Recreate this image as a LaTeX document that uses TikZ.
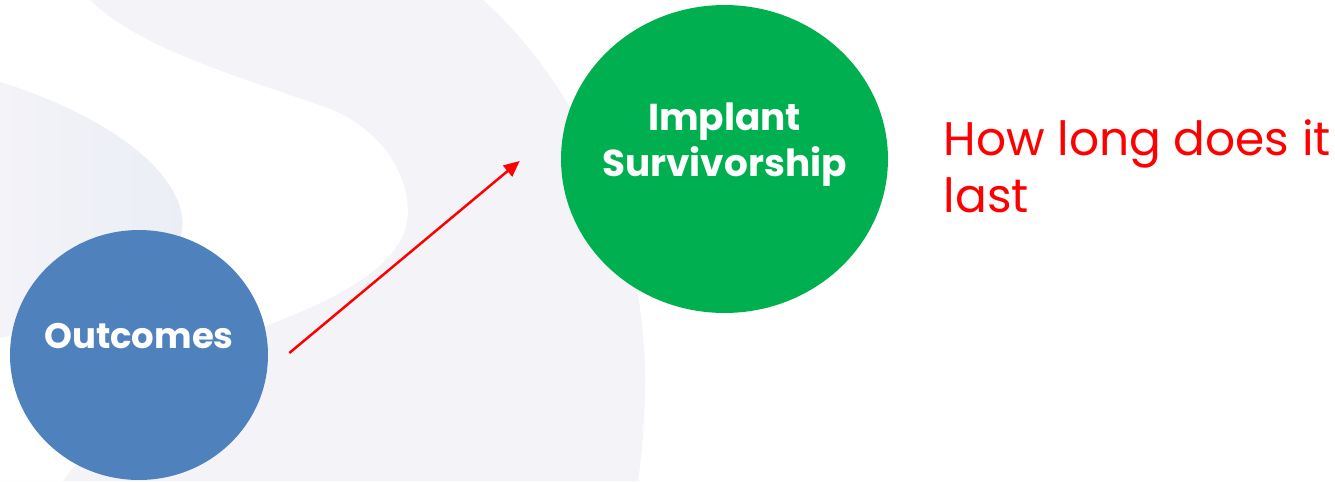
\documentclass[tikz,border=0pt]{standalone}
\usepackage{fontspec}
\setmainfont{Poppins}
\usepackage{tikz}
\usetikzlibrary{shapes.geometric, arrows.meta, positioning}
\definecolor{bggray}{HTML}{F3F3F8}
\definecolor{bgblue}{HTML}{EBEEF6}
\definecolor{outblue}{HTML}{4F81BD}
\definecolor{implgreen}{HTML}{00B050}
\tikzset{
    outcome/.style={ellipse, fill=outblue, minimum width=5.16cm, minimum height=5cm, inner sep=-1cm, align=center, text=white, text height=0.6cm, text depth=0.88cm, font=\bfseries\fontsize{20.2}{24}\selectfont},
    survival/.style={ellipse, fill=implgreen, minimum width=6.54cm, minimum height=6.16cm, inner sep=-1cm, align=center, text=white, font=\bfseries\fontsize{21.3}{26.2}\selectfont},
    question/.style={align=left, inner sep=0pt, text=red, font=\fontsize{26.8}{32.4}\selectfont},
    arrow/.style={-{Triangle[length=9pt,width=8pt]}, line width=1.4pt, draw=red}
}
\begin{document}
\begin{tikzpicture}[x=0.02cm, y=-0.02cm, node distance=1.1cm]
        \useasboundingbox (0,0) rectangle (1335,481);
        \fill[white] (0,0) rectangle (1335,481);

        % Sfondo
        \fill[bggray] (0,0) -- (483,0) .. controls (578,85) and (645,230) .. (645,380) .. controls (645,425) and (641,460) .. (638,481) -- (0,481) -- cycle;
        \fill[white] (0,0) -- (90,0) .. controls (140,50) and (250,80) .. (333,110) .. controls (400,140) and (415,200) .. (405,230) .. controls (390,275) and (320,305) .. (268,325) .. controls (180,370) and (90,440) .. (63,481) -- (0,481) -- (0,338) .. controls (40,328) and (170,300) .. (182,230) .. controls (188,180) and (120,120) .. (0,82) -- cycle;
        \shade[left color=bggray, right color=bgblue] (0,82) .. controls (120,120) and (188,180) .. (182,230) .. controls (170,300) and (40,328) .. (0,338) -- cycle;

        % Nodi
        \node (outcomes) [outcome] at (139,355) {Outcomes};
        \node (implant) [survival] at (724.5,159) {Implant\\Survivorship\rule[-0.76cm]{0pt}{0.76cm}};
        \node (howlong) [question, right=of implant, yshift=-0.15cm] {How long does it\\last};

        % Connessione
        \draw [arrow] ([xshift=0.42cm, yshift=0.04cm]outcomes.east) -- ([xshift=-0.82cm, yshift=-0.04cm]implant.west);
\end{tikzpicture}
\end{document}
